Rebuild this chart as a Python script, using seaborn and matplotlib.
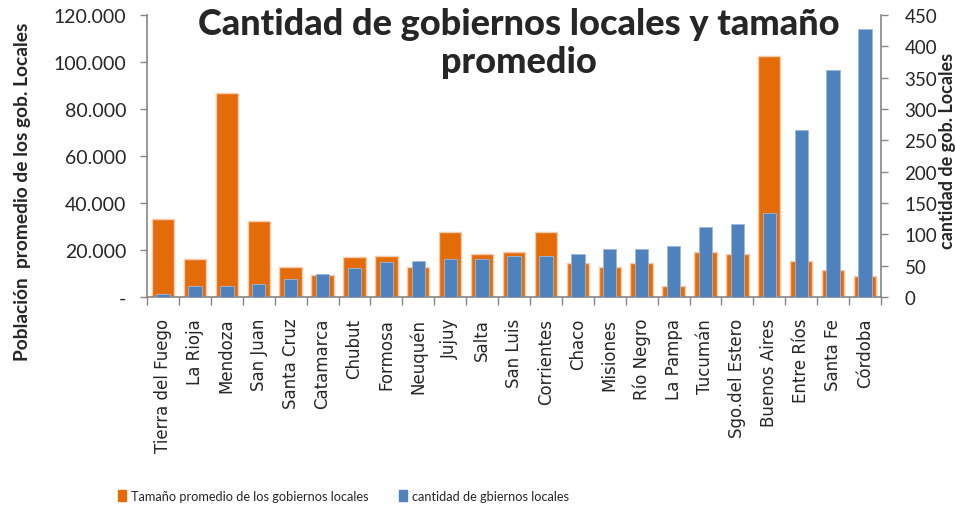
import numpy as np
import pandas as pd
import seaborn as sns
import matplotlib.pyplot as plt
from matplotlib.patches import Patch
from matplotlib.ticker import FuncFormatter

# data
provincias = ["Tierra del Fuego", "La Rioja", "Mendoza", "San Juan", "Santa Cruz",
              "Catamarca", "Chubut", "Formosa", "Neuquén", "Jujuy", "Salta",
              "San Luis", "Corrientes", "Chaco", "Misiones", "Río Negro",
              "La Pampa", "Tucumán", "Sgo.del Estero", "Buenos Aires",
              "Entre Ríos", "Santa Fe", "Córdoba"]
tamano_promedio = [33200, 16200, 86900, 32500, 12900, 9500, 16900, 17600, 12900,
                   27700, 18300, 19000, 27700, 14300, 12900, 14300, 4800, 19000,
                   18300, 102400, 15500, 11500, 8900]
cantidad_gobiernos = [5, 18, 18, 20, 29, 36, 46, 56, 58, 61, 61, 66, 66, 69, 77,
                      77, 81, 112, 116, 134, 266, 362, 428]

ORANGE = "#E36C09"
BLUE = "#4F81BD"
GREY = "#868686"

df = pd.DataFrame({"provincia": provincias,
                   "tamano": tamano_promedio,
                   "cantidad": cantidad_gobiernos})

sns.set_style("white")
plt.rcParams['font.family'] = ['Lato', 'DejaVu Sans']

fig, ax = plt.subplots(figsize=(9.55, 5.10), dpi=100)
fig.subplots_adjust(left=0.154, right=0.9225, bottom=0.4157, top=0.9686)

sns.barplot(data=df, x="provincia", y="tamano", color=ORANGE, saturation=1,
            width=0.7, edgecolor="#F8CBAD", linewidth=1, ax=ax)
ax2 = ax.twinx()
sns.barplot(data=df, x="provincia", y="cantidad", color=BLUE, saturation=1,
            width=0.42, edgecolor="#9DB9DC", linewidth=0.6, ax=ax2)

n = len(provincias)
ax.set_xlim(-0.5, n - 0.5)
ax.set_ylim(0, 120000)
ax2.set_ylim(0, 450)
ax.set_yticks(np.arange(0, 120001, 20000))
ax2.set_yticks(np.arange(0, 451, 50))
ax.yaxis.set_major_formatter(FuncFormatter(
    lambda v, p: "-" if v == 0 else f"{int(v):,}".replace(",", ".")))

ax.set_xticks(np.arange(n))
ax.set_xticklabels(provincias, rotation=90, fontsize=12, family="DejaVu Sans")
ax.set_xticks(np.arange(-0.5, n, 1), minor=True)
ax.tick_params(axis="x", which="major", length=0, pad=15)
ax.tick_params(axis="x", which="minor", bottom=True, length=6, width=1, color=GREY)
ax.tick_params(axis="y", left=True, length=5, width=1, color=GREY, labelsize=14, pad=10)
ax2.tick_params(axis="y", right=True, length=5, width=1, color=GREY, labelsize=13.5, pad=12)

for s in ["top", "right"]:
    ax.spines[s].set_visible(False)
for s in ["top", "left", "bottom"]:
    ax2.spines[s].set_visible(False)
for sp in [ax.spines["left"], ax.spines["bottom"], ax2.spines["right"]]:
    sp.set_color(GREY)
    sp.set_linewidth(1.2)

ax.set_xlabel("")
ax.set_ylabel("Población  promedio de los gob. Locales", fontsize=13.8, fontweight="bold")
ax2.set_ylabel("cantidad de gob. Locales", fontsize=13, fontweight="bold")
ax.yaxis.label.set_va("center")
ax2.yaxis.label.set_va("center")
ax.yaxis.set_label_coords(-0.17, 0.376)
ax2.yaxis.set_label_coords(1.0905, 0.521)

fig.text(0.543, 0.985, "Cantidad de gobiernos locales y tamaño\npromedio",
         ha="center", va="top", fontsize=26, fontweight="black", linespacing=1.2)

handles = [Patch(color=ORANGE), Patch(color=BLUE)]
fig.legend(handles, ["Tamaño promedio de los gobiernos locales",
                     "cantidad de gbiernos locales"],
           loc="center left", bbox_to_anchor=(118 / 955, 1 - 497 / 510), ncol=2,
           frameon=False, fontsize=9.2,
           handlelength=0.65, handleheight=0.85,
           handletextpad=0.35, columnspacing=2.4, borderpad=0, borderaxespad=0)

fig.savefig("out.png", dpi=100)
